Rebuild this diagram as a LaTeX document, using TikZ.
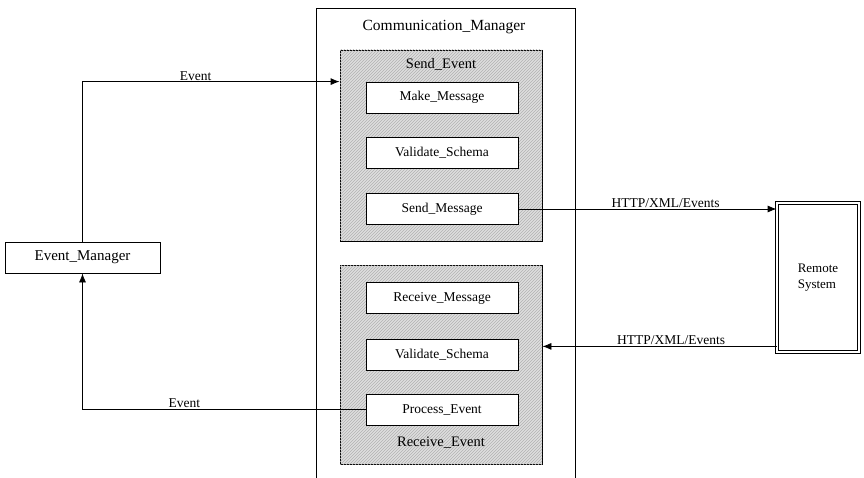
\documentclass[tikz,border=0pt]{standalone}
\usepackage{fontspec}
\setmainfont{Liberation Serif}
\usetikzlibrary{arrows.meta}
\usetikzlibrary{patterns}

\tikzset{
  >={Latex[length=9pt,width=7pt]},
  grpbox/.style={draw, fill=black!13,
    postaction={pattern=north east lines, pattern color=black!30}},
  msgbox/.style={draw, fill=white, minimum width=152pt, minimum height=31pt,
    inner sep=0pt, font=\fontsize{13.5}{15}\selectfont},
  lbl/.style={font=\fontsize{13.5}{15}\selectfont, inner sep=1pt}
}

\begin{document}
\begin{tikzpicture}[x=1pt,y=-1pt,line width=.8pt]
  \clip (0,0) rectangle (864,478);
  \fill[white] (0,0) rectangle (864,478);

  % communication manager frame, runs off the bottom
  \node (cm) [draw, minimum width=259pt, minimum height=490pt, inner sep=0pt,
    anchor=north west] at (316,8) {};
  \node (cmt) [lbl, font=\fontsize{15.5}{17}\selectfont] at (444,27) {Communication\_Manager};

  % send side
  \node (se) [grpbox, minimum width=202pt, minimum height=191pt, inner sep=0pt] at (441,145.5) {};
  \node (set) [lbl, font=\fontsize{14.5}{16}\selectfont] at (441,64) {Send\_Event};
  \node (mm) [msgbox] at (442,97.5) {Make\_Message};
  \node (vs) [msgbox] at (442,152.5) {Validate\_Schema};
  \node (sm) [msgbox] at (442,209) {Send\_Message};

  % receive side
  \node (re) [grpbox, minimum width=202pt, minimum height=199pt, inner sep=0pt] at (441,364.5) {};
  \node (ret) [lbl, font=\fontsize{14.5}{16}\selectfont] at (441,443) {Receive\_Event};
  \node (rm) [msgbox] at (442,298) {Receive\_Message};
  \node (rv) [msgbox] at (442,354.5) {Validate\_Schema};
  \node (pe) [msgbox] at (442,409.5) {Process\_Event};

  \node (em) [draw, minimum width=155pt, minimum height=31pt, inner sep=0pt,
    font=\fontsize{15}{17}\selectfont] at (82.5,257.5) {Event\_Manager};
  \node (rs) [draw, double, double distance=1.5pt, minimum width=82pt, minimum height=149pt,
    inner sep=0pt, align=left, font=\fontsize{13}{16}\selectfont] at (818,277.5) {Remote\\System};

  \path (se.north west) +(0,32) coordinate (sei) {};
  \draw[->] (em.north) |- (sei) node [pos=.72,above,lbl] {Event};
  \draw[->] (pe.west) -| (em.south) node [pos=.32,above,lbl] {Event};

  \draw[->] (sm.east) -- (sm.east -| rs.west) node [pos=.57,above,lbl] {HTTP/XML/Events};
  \path (rs.south west) +(0,-6) coordinate (rsi) {};
  \draw[->] (rsi) -- (rsi -| re.east) node [pos=.45,above,lbl] {HTTP/XML/Events};
\end{tikzpicture}
\end{document}
